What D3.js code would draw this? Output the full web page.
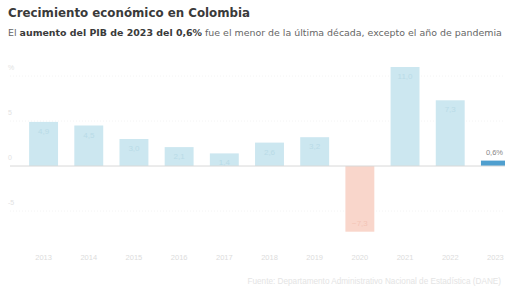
<!DOCTYPE html>
<html>
<head>
<meta charset="utf-8">
<script src="https://cdn.jsdelivr.net/npm/d3@7"></script>
<style>
  body { margin: 0; background: #fff; }
  svg { font-family: "Liberation Sans", Arial, sans-serif; display: block; }
</style>
</head>
<body>
<div id="chart"></div>
<script>
// data
const years = ["2013", "2014", "2015", "2016", "2017", "2018", "2019", "2020", "2021", "2022", "2023"];
const growth = [4.9, 4.5, 3.0, 2.1, 1.4, 2.6, 3.2, -7.3, 11.0, 7.3, 0.6];
const yTicks = [-5, 0, 5, 10];

const width = 505, height = 292;

const svg = d3.select("#chart").append("svg")
    .attr("width", width)
    .attr("height", height);

// shrink/grow a text node until it fills the wanted width
function fitWidth(node, target) {
    const size = parseFloat(node.getAttribute("font-size"));
    const w = node.getComputedTextLength();
    node.setAttribute("font-size", (size * target / w).toFixed(2));
}

// headline
const title = svg.append("text")
    .attr("x", 8).attr("y", 17)
    .attr("font-size", 12).attr("font-weight", "bold")
    .attr("font-family", "DejaVu Sans, sans-serif")
    .attr("fill", "#3a3a3a")
    .text("Crecimiento económico en Colombia");
fitWidth(title.node(), 242);

const sub = svg.append("text")
    .attr("x", 8).attr("y", 36)
    .attr("font-size", 9)
    .attr("font-family", "DejaVu Sans, sans-serif")
    .attr("fill", "#666");
sub.append("tspan").text("El ");
sub.append("tspan").attr("font-weight", "bold").attr("fill", "#3a3a3a").text("aumento del PIB de 2023 del 0,6%");
sub.append("tspan").text(" fue el menor de la última década, excepto el año de pandemia");
fitWidth(sub.node(), 495);

// scales
const x = d3.scaleBand()
    .domain(years)
    .range([21, 518])
    .paddingInner(0.36)
    .paddingOuter(0.18);

const y = d3.scaleLinear()
    .domain([-5, 10])
    .range([211, 76]);

// faint grid + labels
const grid = svg.append("g");
grid.selectAll("line")
    .data(yTicks.filter(d => d !== 0))
    .join("line")
    .attr("x1", 10).attr("x2", width)
    .attr("y1", d => y(d)).attr("y2", d => y(d))
    .attr("stroke", "#f4f4f4")
    .attr("stroke-dasharray", "1,2");
grid.selectAll("text")
    .data(yTicks)
    .join("text")
    .attr("x", 8)
    .attr("y", d => y(d) - 6)
    .attr("font-size", 7)
    .attr("fill", "#e2e2e2")
    .text(d => d === 10 ? "%" : d);

// bars
const colorOf = (d, i) => i === years.length - 1 ? "#4f9fcf" : (d < 0 ? "#f9d6cb" : "#cce7f0");

svg.append("g").selectAll("rect")
    .data(growth)
    .join("rect")
    .attr("x", (d, i) => x(years[i]))
    .attr("width", x.bandwidth())
    .attr("y", d => y(Math.max(0, d)))
    .attr("height", d => Math.abs(y(d) - y(0)))
    .attr("fill", colorOf);

// faint values inside the bars
svg.append("g").selectAll("text")
    .data(growth.slice(0, -1))
    .join("text")
    .attr("x", (d, i) => x(years[i]) + x.bandwidth() / 2)
    .attr("y", d => d < 0 ? y(d) - 6 : y(d) + 12)
    .attr("text-anchor", "middle")
    .attr("font-size", 8)
    .attr("fill", d => d < 0 ? "#f3c4b6" : "#b9dbe7")
    .text(d => d3.format(".1f")(d).replace(".", ","));

// highlighted last value
const last = growth.length - 1;
svg.append("text")
    .attr("x", x(years[last]) + 5)
    .attr("y", y(growth[last]) - 6)
    .attr("font-size", 7.5)
    .attr("fill", "#888")
    .text(d3.format(".1f")(growth[last]).replace(".", ",") + "%");

// baseline
svg.append("line")
    .attr("x1", 10).attr("x2", width)
    .attr("y1", y(0)).attr("y2", y(0))
    .attr("stroke", "#d8d8d8");

// year axis
const xAxis = svg.append("g")
    .attr("transform", "translate(0,247)")
    .call(d3.axisBottom(x).tickSize(0).tickPadding(8));
xAxis.select(".domain").remove();
xAxis.selectAll("text")
    .attr("font-size", 7.5)
    .attr("font-family", "Liberation Sans, Arial, sans-serif")
    .attr("fill", "#dcdcdc");

// source
svg.append("text")
    .attr("x", width - 4).attr("y", 284)
    .attr("text-anchor", "end")
    .attr("font-size", 8.2)
    .attr("fill", "#e4e4e4")
    .text("Fuente: Departamento Administrativo Nacional de Estadística (DANE)");
</script>
</body>
</html>
